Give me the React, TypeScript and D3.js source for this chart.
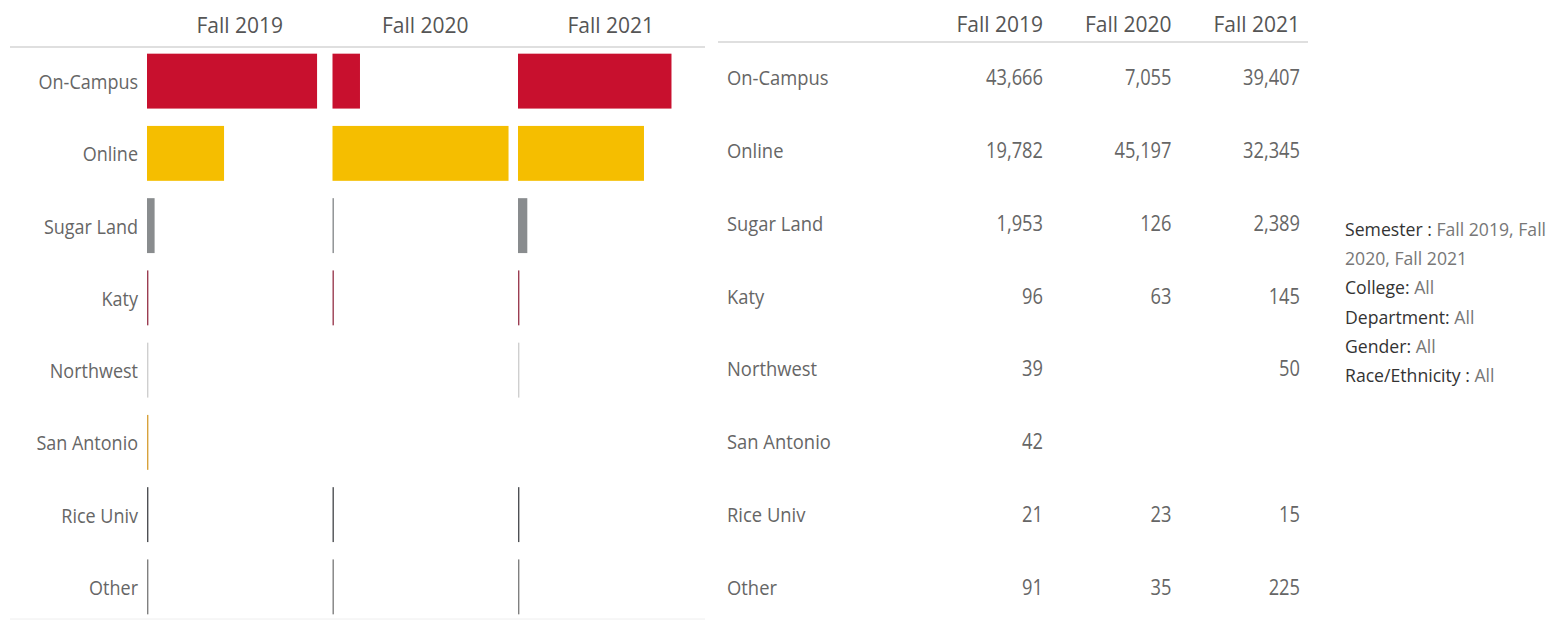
import * as d3 from 'd3';
import type { ReactNode } from 'react';

const semesters = ['Fall 2019', 'Fall 2020', 'Fall 2021'];
const locations = ['On-Campus', 'Online', 'Sugar Land', 'Katy', 'Northwest', 'San Antonio', 'Rice Univ', 'Other'];

// one array per semester, in the order of `locations`; null = no value
const fall2019 = [43666, 19782, 1953, 96, 39, 42, 21, 91];
const fall2020 = [7055, 45197, 126, 63, null, null, 23, 35];
const fall2021 = [39407, 32345, 2389, 145, 50, null, 15, 225];
const seriesValues = [fall2019, fall2020, fall2021];

const locationColors = ['#c8102e', '#f5be00', '#898c8e', '#9b3d52', '#cfcfcf', '#d8a23c', '#4e5054', '#808080'];

const filterLines: [string, string][] = [
  ['Semester : ', 'Fall 2019, Fall'],
  ['', '2020, Fall 2021'],
  ['College: ', 'All'],
  ['Department: ', 'All'],
  ['Gender: ', 'All'],
  ['Race/Ethnicity : ', 'All'],
];

const FONT = '"Open Sans", "Noto Sans", sans-serif';
const W = 1560;
const H = 620;

// text squeezed horizontally to get the tall, narrow look of the original font
function T(props: { x: number; y: number; size: number; sx?: number; anchor?: string; fill?: string; children: ReactNode }) {
  const { x, y, size, sx = 1, anchor = 'start', fill = '#666', children } = props;
  return (
    <text transform={`translate(${x},${y}) scale(${sx},1)`} fontSize={size} textAnchor={anchor} fill={fill}>
      {children}
    </text>
  );
}

export default function App() {
  // left: small-multiple bars
  const panel = d3.scaleBand<string>().domain(semesters).range([147, 147 + 185.5 * 3]);
  const x = d3.scaleLinear().domain([0, 47500]).range([0, 185]);
  const row = d3.scaleBand<string>().domain(locations).range([45, 623]).paddingInner(0.24).paddingOuter(0.12);

  // right: crosstab
  const col = d3.scalePoint<string>().domain(semesters).range([1043, 1300]);
  const tRow = d3.scalePoint<string>().domain(locations).range([77, 587]);
  const fmt = d3.format(',');

  return (
    <div style={{ position: 'absolute', left: 0, top: 0 }}>
      <svg width={W} height={H} style={{ display: 'block', background: '#fff' }} fontFamily={FONT}>
        {/* left header */}
        {semesters.map(s => (
          <T key={s} x={(panel(s) || 0) + panel.bandwidth() / 2} y={33} size={21} anchor="middle" fill="#555">
            {s}
          </T>
        ))}
        <line x1={10} x2={705} y1={47} y2={47} stroke="#d4d4d4" strokeWidth={1.5} />
        <line x1={10} x2={705} y1={619} y2={619} stroke="#eeeeee" strokeWidth={1} />

        {locations.map(loc => (
          <T key={loc} x={138} y={(row(loc) || 0) + row.bandwidth() / 2 + 8} size={20} sx={0.9} anchor="end">
            {loc}
          </T>
        ))}

        {semesters.map((s, si) =>
          locations.map((loc, i) => {
            const v = seriesValues[si][i];
            if (v == null) return null;
            const w = Math.max(x(v), 1.4);
            return (
              <rect
                key={s + loc}
                x={(panel(s) || 0) + x(0)}
                y={row(loc)}
                width={w}
                height={row.bandwidth()}
                fill={locationColors[i]}
              />
            );
          })
        )}

        {/* right crosstab */}
        {semesters.map(s => (
          <T key={s} x={col(s) || 0} y={32} size={21} anchor="end" fill="#555">
            {s}
          </T>
        ))}
        <line x1={718} x2={1308} y1={42} y2={42} stroke="#d4d4d4" strokeWidth={1.5} />
        {locations.map((loc, i) => (
          <g key={loc}>
            <T x={727} y={(tRow(loc) || 0) + 8} size={20} sx={0.92}>
              {loc}
            </T>
            {semesters.map((s, si) => {
              const v = seriesValues[si][i];
              if (v == null) return null;
              return (
                <T key={s} x={col(s) || 0} y={(tRow(loc) || 0) + 8} size={21} sx={0.87} anchor="end">
                  {fmt(v)}
                </T>
              );
            })}
          </g>
        ))}

        {/* filter caption */}
        {filterLines.map(([label, value], i) => (
          <T key={i} x={1345} y={236 + i * 29.2} size={18} sx={0.98}>
            <tspan fill="#333">{label}</tspan>
            <tspan fill="#777">{value}</tspan>
          </T>
        ))}
      </svg>
    </div>
  );
}
